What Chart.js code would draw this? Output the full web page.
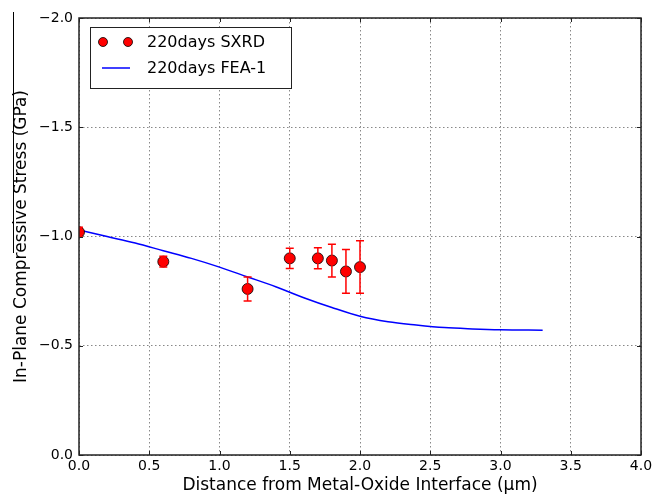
<!DOCTYPE html>
<html>
<head>
<meta charset="utf-8">
<script src="https://cdn.jsdelivr.net/npm/chart.js@4/dist/chart.umd.min.js"></script>
<style>
  body { margin: 0; background: #fff; }
  #wrap { width: 658px; height: 496px; }
</style>
</head>
<body>
<div id="wrap"><canvas id="myChart" width="658" height="496"></canvas></div>
<script>
// measured points (SXRD)
var sxrdX = [0.0, 0.6, 1.2, 1.5, 1.7, 1.8, 1.9, 2.0];
var sxrdY = [-1.02, -0.885, -0.76, -0.90, -0.90, -0.89, -0.84, -0.86];
var sxrdErr = [0.022, 0.025, 0.055, 0.046, 0.048, 0.075, 0.10, 0.12];

// FEA model curve
var feaX = [0.0, 0.2, 0.4, 0.6, 0.8, 1.0, 1.2, 1.4, 1.6, 1.8, 2.0, 2.2, 2.4, 2.6, 2.8, 3.0, 3.3];
var feaY = [-1.03, -1.0, -0.97, -0.935, -0.90, -0.86, -0.815, -0.77, -0.72, -0.675, -0.635, -0.61, -0.595, -0.583, -0.577, -0.573, -0.571];

var xTicks = [0, 0.5, 1, 1.5, 2, 2.5, 3, 3.5, 4];
var yTicks = [-2, -1.5, -1, -0.5, 0];

var FONT = "'DejaVu Sans', sans-serif";

function fmt(v) {
    var s = Math.abs(v).toFixed(1);
    return v < 0 ? '\u2212' + s : s;
}

function clipToArea(chart) {
    var c = chart.ctx, a = chart.chartArea;
    c.save();
    c.beginPath();
    c.rect(a.left, a.top, a.right - a.left, a.bottom - a.top);
    c.clip();
}

// matplotlib clips markers at the axes edge
var areaClip = {
    id: 'areaClip',
    beforeDatasetDraw: function(chart) { clipToArea(chart); },
    afterDatasetDraw: function(chart) { chart.ctx.restore(); }
};

var errorBars = {
    id: 'errorBars',
    afterDatasetsDraw: function(chart) {
        var c = chart.ctx, xs = chart.scales.x, ys = chart.scales.y;
        clipToArea(chart);
        c.strokeStyle = '#ff0000';
        c.lineWidth = 1.5;
        for (var i = 0; i < sxrdX.length; i++) {
            var px = xs.getPixelForValue(sxrdX[i]);
            var y1 = ys.getPixelForValue(sxrdY[i] - sxrdErr[i]);
            var y2 = ys.getPixelForValue(sxrdY[i] + sxrdErr[i]);
            c.beginPath();
            c.moveTo(px, y1); c.lineTo(px, y2);
            c.moveTo(px - 4, y1); c.lineTo(px + 4, y1);
            c.moveTo(px - 4, y2); c.lineTo(px + 4, y2);
            c.stroke();
        }
        c.restore();
    }
};

var frame = {
    id: 'frame',
    afterDraw: function(chart) {
        var c = chart.ctx, a = chart.chartArea, xs = chart.scales.x, ys = chart.scales.y;
        c.save();
        c.strokeStyle = '#222';
        c.lineWidth = 1.5;
        c.strokeRect(a.left, a.top, a.right - a.left, a.bottom - a.top);
        // inward ticks on all four sides
        c.lineWidth = 1;
        c.beginPath();
        xTicks.forEach(function(v) {
            var px = Math.round(xs.getPixelForValue(v)) + 0.5;
            c.moveTo(px, a.bottom); c.lineTo(px, a.bottom - 4);
            c.moveTo(px, a.top); c.lineTo(px, a.top + 4);
        });
        yTicks.forEach(function(v) {
            var py = Math.round(ys.getPixelForValue(v)) + 0.5;
            c.moveTo(a.left, py); c.lineTo(a.left + 4, py);
            c.moveTo(a.right, py); c.lineTo(a.right - 4, py);
        });
        c.stroke();
        // stray rule left of the y title, as in the source figure
        c.strokeStyle = '#000';
        c.beginPath();
        c.moveTo(13.5, 12); c.lineTo(13.5, 253);
        c.stroke();
        // legend box
        var lx = a.left + 11, ly = a.top + 9, lw = 201, lh = 61;
        c.fillStyle = '#fff';
        c.fillRect(lx, ly, lw, lh);
        c.strokeStyle = '#222';
        c.strokeRect(lx + 0.5, ly + 0.5, lw, lh);
        c.fillStyle = '#ff0000';
        c.strokeStyle = '#000';
        c.lineWidth = 0.8;
        [lx + 13, lx + 38].forEach(function(cx) {
            c.beginPath();
            c.arc(cx, ly + 15, 4.5, 0, Math.PI * 2);
            c.fill(); c.stroke();
        });
        c.strokeStyle = '#0000ff';
        c.lineWidth = 1.5;
        c.beginPath();
        c.moveTo(lx + 12, ly + 41); c.lineTo(lx + 40, ly + 41);
        c.stroke();
        c.fillStyle = '#000';
        c.font = '16px ' + FONT;
        c.textBaseline = 'middle';
        c.fillText('220days SXRD', lx + 57, ly + 16);
        c.fillText('220days FEA-1', lx + 57, ly + 42);
        c.restore();
    }
};

var ctx = document.getElementById('myChart').getContext('2d');
var myChart = new Chart(ctx, {
    type: 'scatter',
    data: {
        datasets: [{
            label: '220days SXRD',
            data: sxrdX.map(function(x, i) { return { x: x, y: sxrdY[i] }; }),
            backgroundColor: '#ff0000',
            borderColor: '#000',
            borderWidth: 0.8,
            pointRadius: 5.5,
            order: 0
        }, {
            label: '220days FEA-1',
            type: 'line',
            data: feaX.map(function(x, i) { return { x: x, y: feaY[i] }; }),
            borderColor: '#0000ff',
            borderWidth: 1.5,
            pointRadius: 0,
            cubicInterpolationMode: 'monotone',
            fill: false,
            order: 1
        }]
    },
    options: {
        responsive: false,
        animation: false,
        devicePixelRatio: 1,
        layout: { padding: { left: 11, right: 17, top: 18, bottom: 0 } },
        plugins: {
            legend: { display: false },
            tooltip: { enabled: false }
        },
        scales: {
            x: {
                type: 'linear',
                min: 0, max: 4,
                afterBuildTicks: function(s) { s.ticks = xTicks.map(function(v) { return { value: v }; }); },
                afterFit: function(s) { s.height = 41; },
                grid: {
                    color: '#888',
                    tickLength: 0,
                    drawTicks: false
                },
                border: { display: false, dash: [1.5, 2.5] },
                ticks: {
                    color: '#000',
                    padding: 3,
                    font: { family: FONT, size: 14 },
                    callback: function(v) { return fmt(v); }
                },
                title: {
                    display: true,
                    text: 'Distance from Metal-Oxide Interface (\u03bcm)',
                    color: '#000',
                    padding: { top: 0, bottom: 0 },
                    font: { family: FONT, size: 17 }
                }
            },
            y: {
                type: 'linear',
                min: -2, max: 0,
                reverse: true,
                afterBuildTicks: function(s) { s.ticks = yTicks.map(function(v) { return { value: v }; }); },
                afterFit: function(s) { s.width = 68; },
                grid: {
                    color: '#888',
                    tickLength: 0,
                    drawTicks: false
                },
                border: { display: false, dash: [1.5, 2.5] },
                ticks: {
                    color: '#000',
                    padding: 6,
                    font: { family: FONT, size: 14 },
                    callback: function(v) { return fmt(v); }
                },
                title: {
                    display: true,
                    text: 'In-Plane Compressive Stress (GPa)',
                    color: '#000',
                    padding: { top: 0, bottom: 0 },
                    font: { family: FONT, size: 17 }
                }
            }
        }
    },
    plugins: [areaClip, errorBars, frame]
});
</script>
</body>
</html>
